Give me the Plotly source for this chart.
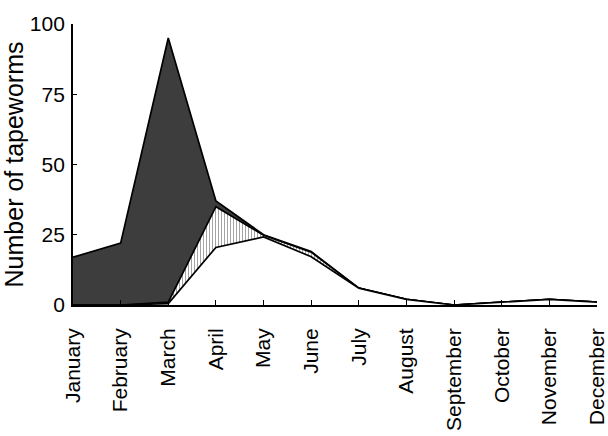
import plotly.graph_objects as go

months = ["January", "February", "March", "April", "May", "June", "July",
          "August", "September", "October", "November", "December"]
total = [17, 22, 95, 37, 25, 19, 6, 2, 0, 1, 2, 1]
middle = [0, 0, 1, 35, 24.8, 18.8, 6, 2, 0, 1, 2, 1]
lower = [0, 0, 0.5, 20.5, 24.2, 17.2, 6, 2, 0, 1, 2, 1]
yticks = [0, 25, 50, 75, 100]

x = list(range(len(months)))
line = dict(color="black", width=1.7)
font = "Liberation Sans, Arial, sans-serif"

fig = go.Figure()
fig.add_trace(go.Scatter(x=x, y=total, mode="lines", fill="tozeroy",
                         fillcolor="#3d3d3d", line=line, showlegend=False))
fig.add_trace(go.Scatter(x=x, y=middle, mode="lines", fill="tozeroy",
                         fillcolor="white",
                         fillpattern=dict(shape="|", bgcolor="white", fgcolor="#333",
                                          size=3, solidity=0.3),
                         line=line, showlegend=False))
fig.add_trace(go.Scatter(x=x, y=lower, mode="lines", fill="tozeroy",
                         fillcolor="white", line=line, showlegend=False))

fig.update_layout(
    width=608, height=436,
    margin=dict(l=73, r=11, t=24, b=131),
    paper_bgcolor="white", plot_bgcolor="white",
    font=dict(family=font, size=21, color="black"),
    xaxis=dict(range=[0, 11], tickvals=x, ticktext=months, tickangle=-90,
               ticks="inside", ticklen=5, tickcolor="black", showgrid=False,
               zeroline=False, showline=True, linecolor="black", linewidth=1.8,
               ticklabelstandoff=13, automargin=False, ticklabeloverflow="allow"),
    yaxis=dict(range=[0, 100], tickvals=yticks, ticks="inside", ticklen=4,
               tickcolor="black", showgrid=False, zeroline=False, showline=True,
               linecolor="black", linewidth=1.8, automargin=False,
               ticklabelstandoff=2,
               title=dict(text="Number of tapeworms", standoff=4)),
)
fig.write_html("out.html", config={"displayModeBar": False},
               post_script="document.body.style.margin='0px';")
